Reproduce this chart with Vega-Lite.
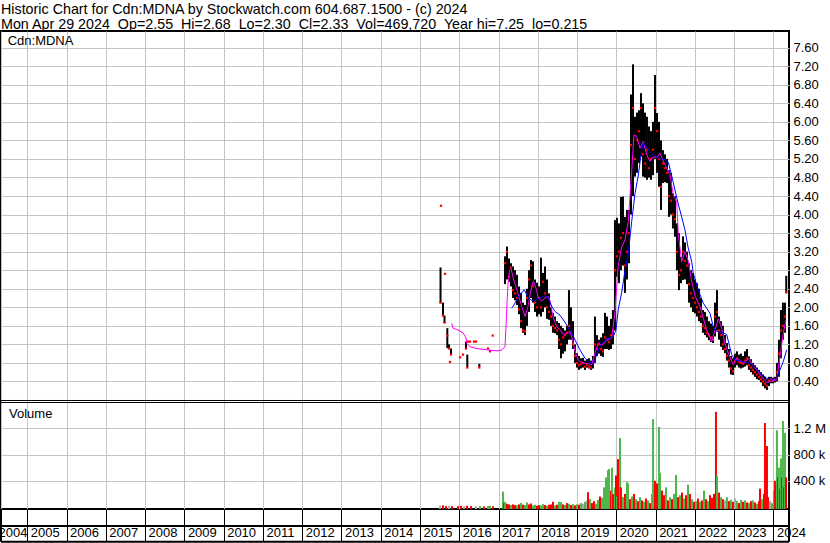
{
"$schema": "https://vega.github.io/schema/vega-lite/v6.json",
"width": 788,
"height": 478,
"autosize": {"type": "none"},
"padding": {"left": 1, "top": 31, "right": 41, "bottom": 34},
"background": "#ffffff",
"title": {"text": ["Historic Chart for Cdn:MDNA by Stockwatch.com 604.687.1500 - (c) 2024", "Mon Apr 29 2024\u00a0 Op=2.55\u00a0 Hi=2.68\u00a0 Lo=2.30\u00a0 Cl=2.33\u00a0 Vol=469,720\u00a0 Year hi=7.25\u00a0 lo=0.215"], "anchor": "start", "frame": "group", "orient": "top", "font": "Liberation Sans", "fontSize": 14.3, "fontWeight": "normal", "color": "#000000", "lineHeight": 14.3, "offset": -1},
"config": {"view": {"stroke": "#000000", "strokeWidth": 2}, "axis": {"labelFont": "Liberation Sans", "labelFontSize": 13, "labelColor": "#000000", "gridColor": "#c4c4c4", "gridWidth": 1, "gridOpacity": 1, "labelOverlap": false}},
"datasets": {
"bars": [
{"t":2015.522,"hi":2.86,"lo":2.09,"cl":2.10},{"t":2015.534,"hi":4.19,"lo":4.19,"cl":4.19},{"t":2015.585,"hi":2.10,"lo":1.82,"cl":1.82},{"t":2015.624,"hi":1.82,"lo":1.66,"cl":1.67},{"t":2015.636,"hi":2.72,"lo":2.72,"cl":2.72},{"t":2015.695,"hi":1.55,"lo":1.12,"cl":1.39},{"t":2015.738,"hi":1.20,"lo":1.11,"cl":1.11},{"t":2015.764,"hi":0.82,"lo":0.82,"cl":0.82},{"t":2015.789,"hi":1.11,"lo":0.97,"cl":0.98},{"t":2016.018,"hi":0.92,"lo":0.92,"cl":0.92},{"t":2016.094,"hi":0.98,"lo":0.98,"cl":0.98},{"t":2016.171,"hi":1.26,"lo":1.11,"cl":1.11},{"t":2016.204,"hi":0.98,"lo":0.71,"cl":0.70},{"t":2016.222,"hi":1.26,"lo":1.26,"cl":1.26},{"t":2016.273,"hi":1.26,"lo":1.26,"cl":1.26},{"t":2016.375,"hi":1.26,"lo":1.26,"cl":1.26},{"t":2016.426,"hi":1.26,"lo":1.26,"cl":1.26},{"t":2016.510,"hi":0.78,"lo":0.71,"cl":0.70},{"t":2016.731,"hi":1.11,"lo":1.11,"cl":1.11},{"t":2016.782,"hi":1.05,"lo":1.05,"cl":1.05},{"t":2016.851,"hi":1.39,"lo":1.39,"cl":1.39},
{"t":2017.164,"hi":3.10,"lo":2.50,"cl":2.95},{"t":2017.215,"hi":3.31,"lo":2.60,"cl":3.20},{"t":2017.266,"hi":3.05,"lo":2.55,"cl":2.66},{"t":2017.317,"hi":2.95,"lo":2.45,"cl":2.86},{"t":2017.368,"hi":2.88,"lo":2.20,"cl":2.37},{"t":2017.419,"hi":2.80,"lo":2.15,"cl":2.30},{"t":2017.470,"hi":2.70,"lo":2.05,"cl":2.20},{"t":2017.521,"hi":2.45,"lo":1.85,"cl":1.95},{"t":2017.572,"hi":2.31,"lo":1.55,"cl":1.70},{"t":2017.623,"hi":2.10,"lo":1.45,"cl":1.50},{"t":2017.674,"hi":2.05,"lo":1.40,"cl":1.48},{"t":2017.724,"hi":2.40,"lo":1.60,"cl":2.20},{"t":2017.775,"hi":2.80,"lo":1.90,"cl":2.60},{"t":2017.826,"hi":3.02,"lo":2.20,"cl":2.90},{"t":2017.877,"hi":2.99,"lo":2.10,"cl":2.45},{"t":2017.928,"hi":2.60,"lo":1.90,"cl":2.10},{"t":2017.979,"hi":2.53,"lo":1.80,"cl":2.00},
{"t":2018.030,"hi":2.45,"lo":1.85,"cl":2.20},{"t":2018.081,"hi":3.07,"lo":1.80,"cl":2.00},{"t":2018.132,"hi":2.74,"lo":1.90,"cl":2.55},{"t":2018.182,"hi":2.88,"lo":2.00,"cl":2.30},{"t":2018.233,"hi":2.60,"lo":1.75,"cl":2.00},{"t":2018.284,"hi":2.30,"lo":1.73,"cl":1.90},{"t":2018.335,"hi":2.00,"lo":1.60,"cl":1.80},{"t":2018.386,"hi":1.88,"lo":1.45,"cl":1.60},{"t":2018.437,"hi":1.80,"lo":1.44,"cl":1.55},{"t":2018.488,"hi":1.70,"lo":1.40,"cl":1.50},{"t":2018.539,"hi":1.66,"lo":1.10,"cl":1.30},{"t":2018.590,"hi":1.60,"lo":0.90,"cl":1.20},{"t":2018.641,"hi":1.55,"lo":1.00,"cl":1.35},{"t":2018.692,"hi":1.50,"lo":1.05,"cl":1.40},{"t":2018.743,"hi":1.60,"lo":1.20,"cl":1.45},{"t":2018.793,"hi":2.37,"lo":1.30,"cl":1.60},{"t":2018.844,"hi":2.00,"lo":1.30,"cl":1.45},{"t":2018.895,"hi":1.70,"lo":1.10,"cl":1.20},{"t":2018.946,"hi":1.20,"lo":0.80,"cl":0.95},{"t":2018.997,"hi":1.01,"lo":0.70,"cl":0.80},
{"t":2019.048,"hi":0.95,"lo":0.65,"cl":0.75},{"t":2019.099,"hi":0.90,"lo":0.68,"cl":0.78},{"t":2019.150,"hi":0.91,"lo":0.70,"cl":0.80},{"t":2019.201,"hi":0.85,"lo":0.65,"cl":0.72},{"t":2019.252,"hi":0.88,"lo":0.70,"cl":0.76},{"t":2019.303,"hi":0.90,"lo":0.68,"cl":0.72},{"t":2019.353,"hi":0.85,"lo":0.65,"cl":0.70},{"t":2019.404,"hi":0.95,"lo":0.68,"cl":0.80},{"t":2019.455,"hi":1.80,"lo":0.80,"cl":1.20},{"t":2019.506,"hi":1.40,"lo":0.95,"cl":1.10},{"t":2019.557,"hi":1.30,"lo":1.00,"cl":1.20},{"t":2019.608,"hi":1.35,"lo":0.95,"cl":1.10},{"t":2019.659,"hi":1.44,"lo":0.93,"cl":1.05},{"t":2019.710,"hi":1.88,"lo":1.10,"cl":1.35},{"t":2019.761,"hi":1.80,"lo":1.10,"cl":1.30},{"t":2019.812,"hi":1.60,"lo":1.08,"cl":1.25},{"t":2019.863,"hi":1.75,"lo":1.10,"cl":1.40},{"t":2019.913,"hi":1.94,"lo":1.20,"cl":1.50},{"t":2019.964,"hi":3.88,"lo":1.50,"cl":2.80},
{"t":2020.015,"hi":3.93,"lo":2.66,"cl":3.10},{"t":2020.066,"hi":3.81,"lo":2.52,"cl":3.20},{"t":2020.117,"hi":4.38,"lo":2.80,"cl":3.50},{"t":2020.168,"hi":4.39,"lo":2.90,"cl":3.60},{"t":2020.219,"hi":3.95,"lo":2.31,"cl":2.90},{"t":2020.270,"hi":4.10,"lo":2.60,"cl":3.20},{"t":2020.321,"hi":4.10,"lo":2.95,"cl":3.60},{"t":2020.372,"hi":6.59,"lo":4.00,"cl":5.50},{"t":2020.423,"hi":7.24,"lo":4.40,"cl":6.30},{"t":2020.474,"hi":6.11,"lo":4.82,"cl":5.20},{"t":2020.525,"hi":6.20,"lo":4.90,"cl":5.60},{"t":2020.576,"hi":6.25,"lo":5.11,"cl":5.80},{"t":2020.627,"hi":6.62,"lo":5.25,"cl":6.30},{"t":2020.678,"hi":6.40,"lo":4.82,"cl":5.30},{"t":2020.728,"hi":6.20,"lo":4.80,"cl":5.10},{"t":2020.779,"hi":6.11,"lo":4.75,"cl":5.40},{"t":2020.830,"hi":5.90,"lo":4.80,"cl":5.00},{"t":2020.881,"hi":5.80,"lo":4.75,"cl":5.20},{"t":2020.932,"hi":6.00,"lo":4.85,"cl":5.40},{"t":2020.983,"hi":7.01,"lo":5.20,"cl":6.30},
{"t":2021.034,"hi":6.19,"lo":4.90,"cl":5.80},{"t":2021.085,"hi":6.00,"lo":4.60,"cl":5.20},{"t":2021.136,"hi":5.60,"lo":4.10,"cl":4.60},{"t":2021.187,"hi":5.39,"lo":4.68,"cl":5.10},{"t":2021.238,"hi":5.30,"lo":4.70,"cl":5.00},{"t":2021.289,"hi":5.20,"lo":4.68,"cl":4.90},{"t":2021.340,"hi":4.96,"lo":3.95,"cl":4.40},{"t":2021.390,"hi":4.90,"lo":4.00,"cl":4.30},{"t":2021.441,"hi":4.46,"lo":3.70,"cl":4.00},{"t":2021.492,"hi":4.40,"lo":3.52,"cl":3.90},{"t":2021.543,"hi":3.81,"lo":2.80,"cl":3.20},{"t":2021.594,"hi":3.60,"lo":2.37,"cl":2.70},{"t":2021.645,"hi":3.09,"lo":2.52,"cl":2.80},{"t":2021.696,"hi":3.53,"lo":2.59,"cl":3.20},{"t":2021.747,"hi":3.40,"lo":2.60,"cl":3.00},{"t":2021.798,"hi":3.20,"lo":2.50,"cl":2.90},{"t":2021.849,"hi":2.95,"lo":2.10,"cl":2.50},{"t":2021.900,"hi":2.80,"lo":2.00,"cl":2.30},{"t":2021.951,"hi":2.74,"lo":1.90,"cl":2.20},
{"t":2022.002,"hi":2.60,"lo":1.87,"cl":2.10},{"t":2022.052,"hi":2.52,"lo":1.80,"cl":2.00},{"t":2022.103,"hi":2.40,"lo":1.70,"cl":1.90},{"t":2022.154,"hi":2.20,"lo":1.66,"cl":1.80},{"t":2022.205,"hi":1.94,"lo":1.45,"cl":1.60},{"t":2022.256,"hi":1.90,"lo":1.40,"cl":1.55},{"t":2022.307,"hi":1.80,"lo":1.35,"cl":1.45},{"t":2022.358,"hi":1.70,"lo":1.29,"cl":1.40},{"t":2022.409,"hi":1.65,"lo":1.25,"cl":1.35},{"t":2022.460,"hi":1.60,"lo":1.23,"cl":1.30},{"t":2022.511,"hi":2.10,"lo":1.37,"cl":1.80},{"t":2022.562,"hi":2.37,"lo":1.50,"cl":1.90},{"t":2022.613,"hi":1.80,"lo":1.30,"cl":1.50},{"t":2022.664,"hi":1.70,"lo":1.15,"cl":1.40},{"t":2022.714,"hi":1.60,"lo":1.08,"cl":1.20},{"t":2022.765,"hi":1.40,"lo":1.01,"cl":1.10},{"t":2022.816,"hi":1.23,"lo":0.85,"cl":0.95},{"t":2022.867,"hi":1.10,"lo":0.70,"cl":0.85},{"t":2022.918,"hi":0.95,"lo":0.55,"cl":0.68},{"t":2022.969,"hi":0.90,"lo":0.54,"cl":0.62},
{"t":2023.020,"hi":1.00,"lo":0.70,"cl":0.85},{"t":2023.071,"hi":1.05,"lo":0.75,"cl":0.90},{"t":2023.122,"hi":0.98,"lo":0.70,"cl":0.82},{"t":2023.173,"hi":1.00,"lo":0.68,"cl":0.80},{"t":2023.224,"hi":0.95,"lo":0.70,"cl":0.78},{"t":2023.275,"hi":1.05,"lo":0.72,"cl":0.85},{"t":2023.326,"hi":1.10,"lo":0.75,"cl":0.90},{"t":2023.376,"hi":0.94,"lo":0.65,"cl":0.75},{"t":2023.427,"hi":0.88,"lo":0.60,"cl":0.70},{"t":2023.478,"hi":0.80,"lo":0.55,"cl":0.65},{"t":2023.529,"hi":0.75,"lo":0.50,"cl":0.60},{"t":2023.580,"hi":0.70,"lo":0.45,"cl":0.55},{"t":2023.631,"hi":0.65,"lo":0.43,"cl":0.50},{"t":2023.682,"hi":0.60,"lo":0.38,"cl":0.45},{"t":2023.733,"hi":0.55,"lo":0.30,"cl":0.40},{"t":2023.784,"hi":0.50,"lo":0.25,"cl":0.35},{"t":2023.835,"hi":0.45,"lo":0.215,"cl":0.30},{"t":2023.886,"hi":0.50,"lo":0.30,"cl":0.42},{"t":2023.937,"hi":0.50,"lo":0.36,"cl":0.45},{"t":2023.988,"hi":0.48,"lo":0.36,"cl":0.42},
{"t":2024.038,"hi":0.50,"lo":0.38,"cl":0.45},{"t":2024.089,"hi":0.80,"lo":0.40,"cl":0.60},{"t":2024.140,"hi":1.30,"lo":0.50,"cl":1.00},{"t":2024.191,"hi":1.94,"lo":0.90,"cl":1.50},{"t":2024.242,"hi":2.10,"lo":1.30,"cl":1.60},{"t":2024.293,"hi":2.10,"lo":1.45,"cl":1.80},{"t":2024.326,"hi":2.68,"lo":2.30,"cl":2.33}
],
"ma": [
{"t":2015.807,"v":1.65,"series":"fast"},{"t":2015.840,"v":1.55,"series":"fast"},{"t":2015.967,"v":1.51,"series":"fast"},{"t":2016.094,"v":1.45,"series":"fast"},{"t":2016.171,"v":1.34,"series":"fast"},{"t":2016.197,"v":1.21,"series":"fast"},{"t":2016.273,"v":1.15,"series":"fast"},{"t":2016.451,"v":1.11,"series":"fast"},{"t":2016.731,"v":1.08,"series":"fast"},{"t":2016.960,"v":1.06,"series":"fast"},{"t":2017.088,"v":1.08,"series":"fast"},{"t":2017.164,"v":1.15,"series":"fast"},{"t":2017.190,"v":1.58,"series":"fast"},{"t":2017.215,"v":2.10,"series":"fast"},{"t":2017.241,"v":2.50,"series":"fast"},{"t":2017.279,"v":2.80,"series":"fast"},{"t":2017.317,"v":2.84,"series":"fast"},{"t":2017.368,"v":2.65,"series":"fast"},{"t":2017.419,"v":2.51,"series":"fast"},{"t":2017.495,"v":2.30,"series":"fast"},{"t":2017.589,"v":2.02,"series":"fast"},{"t":2017.674,"v":1.80,"series":"fast"},{"t":2017.750,"v":2.02,"series":"fast"},{"t":2017.844,"v":2.45,"series":"fast"},{"t":2017.885,"v":2.56,"series":"fast"},{"t":2017.954,"v":2.41,"series":"fast"},{"t":2018.013,"v":2.20,"series":"fast"},{"t":2018.099,"v":2.13,"series":"fast"},{"t":2018.182,"v":2.20,"series":"fast"},{"t":2018.267,"v":2.23,"series":"fast"},{"t":2018.310,"v":2.15,"series":"fast"},{"t":2018.394,"v":1.77,"series":"fast"},{"t":2018.480,"v":1.58,"series":"fast"},{"t":2018.565,"v":1.52,"series":"fast"},{"t":2018.649,"v":1.41,"series":"fast"},{"t":2018.736,"v":1.44,"series":"fast"},{"t":2018.819,"v":1.48,"series":"fast"},{"t":2018.888,"v":1.29,"series":"fast"},{"t":2018.946,"v":1.05,"series":"fast"},{"t":2019.031,"v":0.86,"series":"fast"},{"t":2019.158,"v":0.80,"series":"fast"},{"t":2019.285,"v":0.78,"series":"fast"},{"t":2019.371,"v":0.76,"series":"fast"},{"t":2019.455,"v":1.01,"series":"fast"},{"t":2019.540,"v":1.23,"series":"fast"},{"t":2019.634,"v":1.18,"series":"fast"},{"t":2019.753,"v":1.29,"series":"fast"},{"t":2019.881,"v":1.34,"series":"fast"},{"t":2019.964,"v":1.90,"series":"fast"},{"t":2020.048,"v":2.90,"series":"fast"},{"t":2020.135,"v":3.30,"series":"fast"},{"t":2020.219,"v":3.45,"series":"fast"},{"t":2020.303,"v":3.85,"series":"fast"},{"t":2020.390,"v":4.93,"series":"fast"},{"t":2020.448,"v":5.72,"series":"fast"},{"t":2020.517,"v":5.69,"series":"fast"},{"t":2020.601,"v":5.43,"series":"fast"},{"t":2020.685,"v":5.58,"series":"fast"},{"t":2020.771,"v":5.29,"series":"fast"},{"t":2020.856,"v":5.15,"series":"fast"},{"t":2020.940,"v":5.25,"series":"fast"},{"t":2021.027,"v":5.22,"series":"fast"},{"t":2021.111,"v":5.33,"series":"fast"},{"t":2021.195,"v":5.15,"series":"fast"},{"t":2021.281,"v":5.00,"series":"fast"},{"t":2021.365,"v":4.86,"series":"fast"},{"t":2021.449,"v":4.43,"series":"fast"},{"t":2021.536,"v":4.28,"series":"fast"},{"t":2021.577,"v":3.57,"series":"fast"},{"t":2021.663,"v":2.99,"series":"fast"},{"t":2021.747,"v":3.20,"series":"fast"},{"t":2021.831,"v":3.00,"series":"fast"},{"t":2021.917,"v":2.56,"series":"fast"},{"t":2022.002,"v":2.25,"series":"fast"},{"t":2022.086,"v":2.09,"series":"fast"},{"t":2022.129,"v":2.02,"series":"fast"},{"t":2022.300,"v":1.51,"series":"fast"},{"t":2022.427,"v":1.26,"series":"fast"},{"t":2022.511,"v":1.51,"series":"fast"},{"t":2022.595,"v":1.75,"series":"fast"},{"t":2022.682,"v":1.55,"series":"fast"},{"t":2022.765,"v":1.22,"series":"fast"},{"t":2022.849,"v":1.01,"series":"fast"},{"t":2022.977,"v":0.76,"series":"fast"},{"t":2023.063,"v":0.90,"series":"fast"},{"t":2023.147,"v":0.85,"series":"fast"},{"t":2023.275,"v":0.80,"series":"fast"},{"t":2023.359,"v":0.90,"series":"fast"},{"t":2023.453,"v":0.78,"series":"fast"},{"t":2023.572,"v":0.65,"series":"fast"},{"t":2023.700,"v":0.50,"series":"fast"},{"t":2023.827,"v":0.38,"series":"fast"},{"t":2023.954,"v":0.40,"series":"fast"},{"t":2024.082,"v":0.44,"series":"fast"},{"t":2024.166,"v":0.94,"series":"fast"},{"t":2024.251,"v":1.44,"series":"fast"},{"t":2024.320,"v":1.73,"series":"fast"},
{"t":2017.335,"v":1.98,"series":"slow"},{"t":2017.393,"v":2.05,"series":"slow"},{"t":2017.462,"v":2.16,"series":"slow"},{"t":2017.546,"v":2.27,"series":"slow"},{"t":2017.656,"v":2.38,"series":"slow"},{"t":2017.699,"v":2.30,"series":"slow"},{"t":2017.758,"v":2.20,"series":"slow"},{"t":2017.885,"v":2.13,"series":"slow"},{"t":2018.055,"v":2.20,"series":"slow"},{"t":2018.182,"v":2.25,"series":"slow"},{"t":2018.259,"v":2.20,"series":"slow"},{"t":2018.353,"v":2.02,"series":"slow"},{"t":2018.437,"v":1.91,"series":"slow"},{"t":2018.565,"v":1.83,"series":"slow"},{"t":2018.736,"v":1.62,"series":"slow"},{"t":2018.904,"v":1.37,"series":"slow"},{"t":2019.074,"v":1.08,"series":"slow"},{"t":2019.201,"v":0.90,"series":"slow"},{"t":2019.371,"v":0.78,"series":"slow"},{"t":2019.430,"v":0.80,"series":"slow"},{"t":2019.498,"v":0.98,"series":"slow"},{"t":2019.583,"v":1.15,"series":"slow"},{"t":2019.710,"v":1.29,"series":"slow"},{"t":2019.921,"v":1.37,"series":"slow"},{"t":2019.990,"v":1.51,"series":"slow"},{"t":2020.048,"v":1.95,"series":"slow"},{"t":2020.135,"v":2.32,"series":"slow"},{"t":2020.219,"v":2.78,"series":"slow"},{"t":2020.303,"v":3.15,"series":"slow"},{"t":2020.390,"v":3.85,"series":"slow"},{"t":2020.474,"v":4.45,"series":"slow"},{"t":2020.559,"v":4.85,"series":"slow"},{"t":2020.645,"v":5.40,"series":"slow"},{"t":2020.685,"v":5.55,"series":"slow"},{"t":2020.813,"v":5.39,"series":"slow"},{"t":2020.940,"v":5.29,"series":"slow"},{"t":2021.068,"v":5.22,"series":"slow"},{"t":2021.238,"v":5.18,"series":"slow"},{"t":2021.322,"v":5.13,"series":"slow"},{"t":2021.409,"v":4.84,"series":"slow"},{"t":2021.492,"v":4.53,"series":"slow"},{"t":2021.569,"v":4.25,"series":"slow"},{"t":2021.663,"v":3.95,"series":"slow"},{"t":2021.747,"v":3.67,"series":"slow"},{"t":2021.824,"v":3.30,"series":"slow"},{"t":2021.917,"v":2.99,"series":"slow"},{"t":2021.958,"v":2.74,"series":"slow"},{"t":2022.086,"v":2.37,"series":"slow"},{"t":2022.213,"v":2.09,"series":"slow"},{"t":2022.384,"v":1.87,"series":"slow"},{"t":2022.468,"v":1.58,"series":"slow"},{"t":2022.555,"v":1.48,"series":"slow"},{"t":2022.689,"v":1.46,"series":"slow"},{"t":2022.809,"v":1.41,"series":"slow"},{"t":2022.875,"v":1.19,"series":"slow"},{"t":2022.936,"v":0.98,"series":"slow"},{"t":2023.020,"v":0.86,"series":"slow"},{"t":2023.190,"v":0.83,"series":"slow"},{"t":2023.359,"v":0.81,"series":"slow"},{"t":2023.529,"v":0.72,"series":"slow"},{"t":2023.657,"v":0.58,"series":"slow"},{"t":2023.827,"v":0.47,"series":"slow"},{"t":2023.995,"v":0.44,"series":"slow"},{"t":2024.082,"v":0.47,"series":"slow"},{"t":2024.166,"v":0.65,"series":"slow"},{"t":2024.251,"v":0.83,"series":"slow"},{"t":2024.336,"v":1.08,"series":"slow"}
],
"vol": [
{"t":2015.509,"v":20000,"dir":"flat"},{"t":2015.585,"v":25000,"dir":"down"},{"t":2015.662,"v":15000,"dir":"down"},{"t":2015.738,"v":20000,"dir":"flat"},{"t":2015.815,"v":15000,"dir":"down"},{"t":2015.967,"v":12000,"dir":"down"},{"t":2016.044,"v":18000,"dir":"down"},{"t":2016.120,"v":12000,"dir":"flat"},{"t":2016.197,"v":20000,"dir":"down"},{"t":2016.299,"v":15000,"dir":"down"},{"t":2016.426,"v":12000,"dir":"flat"},{"t":2016.528,"v":15000,"dir":"up"},{"t":2016.630,"v":10000,"dir":"down"},{"t":2016.731,"v":15000,"dir":"up"},{"t":2016.782,"v":20000,"dir":"up"},{"t":2016.859,"v":12000,"dir":"down"},
{"t":2017.113,"v":235000,"dir":"up"},{"t":2017.139,"v":60000,"dir":"down"},{"t":2017.164,"v":80000,"dir":"up"},{"t":2017.215,"v":50000,"dir":"down"},{"t":2017.266,"v":40000,"dir":"down"},{"t":2017.317,"v":30000,"dir":"up"},{"t":2017.368,"v":40000,"dir":"down"},{"t":2017.419,"v":30000,"dir":"down"},{"t":2017.470,"v":25000,"dir":"up"},{"t":2017.521,"v":40000,"dir":"down"},{"t":2017.572,"v":62000,"dir":"up"},{"t":2017.623,"v":35000,"dir":"down"},{"t":2017.674,"v":30000,"dir":"up"},{"t":2017.724,"v":70000,"dir":"up"},{"t":2017.775,"v":40000,"dir":"down"},{"t":2017.826,"v":55000,"dir":"down"},{"t":2017.877,"v":25000,"dir":"up"},{"t":2017.928,"v":35000,"dir":"up"},{"t":2017.979,"v":20000,"dir":"down"},
{"t":2018.030,"v":30000,"dir":"down"},{"t":2018.081,"v":25000,"dir":"up"},{"t":2018.132,"v":45000,"dir":"up"},{"t":2018.182,"v":30000,"dir":"down"},{"t":2018.233,"v":20000,"dir":"up"},{"t":2018.284,"v":35000,"dir":"down"},{"t":2018.335,"v":40000,"dir":"down"},{"t":2018.386,"v":80000,"dir":"down"},{"t":2018.437,"v":25000,"dir":"up"},{"t":2018.488,"v":35000,"dir":"down"},{"t":2018.539,"v":80000,"dir":"up"},{"t":2018.590,"v":75000,"dir":"up"},{"t":2018.641,"v":40000,"dir":"down"},{"t":2018.692,"v":30000,"dir":"up"},{"t":2018.743,"v":60000,"dir":"down"},{"t":2018.793,"v":50000,"dir":"up"},{"t":2018.844,"v":30000,"dir":"down"},{"t":2018.895,"v":45000,"dir":"up"},{"t":2018.946,"v":25000,"dir":"down"},{"t":2018.997,"v":40000,"dir":"up"},
{"t":2019.048,"v":35000,"dir":"down"},{"t":2019.099,"v":60000,"dir":"up"},{"t":2019.150,"v":50000,"dir":"flat"},{"t":2019.201,"v":80000,"dir":"up"},{"t":2019.252,"v":100000,"dir":"flat"},{"t":2019.277,"v":225000,"dir":"down"},{"t":2019.328,"v":120000,"dir":"up"},{"t":2019.379,"v":60000,"dir":"down"},{"t":2019.430,"v":90000,"dir":"down"},{"t":2019.481,"v":50000,"dir":"up"},{"t":2019.532,"v":110000,"dir":"up"},{"t":2019.583,"v":160000,"dir":"down"},{"t":2019.634,"v":140000,"dir":"up"},{"t":2019.685,"v":300000,"dir":"up"},{"t":2019.736,"v":450000,"dir":"up"},{"t":2019.787,"v":560000,"dir":"up"},{"t":2019.812,"v":580000,"dir":"up"},{"t":2019.863,"v":250000,"dir":"down"},{"t":2019.888,"v":600000,"dir":"up"},{"t":2019.913,"v":200000,"dir":"down"},{"t":2019.964,"v":300000,"dir":"up"},{"t":2019.990,"v":480000,"dir":"down"},
{"t":2020.015,"v":160000,"dir":"up"},{"t":2020.041,"v":730000,"dir":"down"},{"t":2020.092,"v":1050000,"dir":"up"},{"t":2020.117,"v":300000,"dir":"down"},{"t":2020.168,"v":150000,"dir":"up"},{"t":2020.219,"v":200000,"dir":"down"},{"t":2020.270,"v":380000,"dir":"up"},{"t":2020.296,"v":360000,"dir":"up"},{"t":2020.347,"v":120000,"dir":"down"},{"t":2020.397,"v":160000,"dir":"up"},{"t":2020.448,"v":200000,"dir":"down"},{"t":2020.499,"v":120000,"dir":"up"},{"t":2020.550,"v":90000,"dir":"down"},{"t":2020.601,"v":150000,"dir":"up"},{"t":2020.652,"v":100000,"dir":"down"},{"t":2020.703,"v":80000,"dir":"up"},{"t":2020.754,"v":130000,"dir":"down"},{"t":2020.805,"v":100000,"dir":"up"},{"t":2020.856,"v":60000,"dir":"down"},{"t":2020.907,"v":200000,"dir":"up"},{"t":2020.932,"v":1340000,"dir":"up"},{"t":2020.983,"v":400000,"dir":"down"},
{"t":2021.034,"v":360000,"dir":"down"},{"t":2021.085,"v":1220000,"dir":"up"},{"t":2021.111,"v":520000,"dir":"up"},{"t":2021.162,"v":250000,"dir":"down"},{"t":2021.213,"v":180000,"dir":"down"},{"t":2021.264,"v":300000,"dir":"up"},{"t":2021.314,"v":100000,"dir":"down"},{"t":2021.365,"v":150000,"dir":"up"},{"t":2021.416,"v":120000,"dir":"down"},{"t":2021.467,"v":200000,"dir":"up"},{"t":2021.518,"v":490000,"dir":"up"},{"t":2021.569,"v":150000,"dir":"down"},{"t":2021.620,"v":180000,"dir":"up"},{"t":2021.671,"v":220000,"dir":"down"},{"t":2021.722,"v":130000,"dir":"up"},{"t":2021.773,"v":180000,"dir":"down"},{"t":2021.824,"v":340000,"dir":"up"},{"t":2021.874,"v":200000,"dir":"down"},{"t":2021.925,"v":120000,"dir":"up"},{"t":2021.976,"v":80000,"dir":"down"},
{"t":2022.027,"v":90000,"dir":"up"},{"t":2022.078,"v":130000,"dir":"down"},{"t":2022.129,"v":80000,"dir":"up"},{"t":2022.180,"v":100000,"dir":"down"},{"t":2022.231,"v":250000,"dir":"up"},{"t":2022.282,"v":120000,"dir":"down"},{"t":2022.333,"v":90000,"dir":"up"},{"t":2022.384,"v":180000,"dir":"down"},{"t":2022.435,"v":140000,"dir":"down"},{"t":2022.486,"v":200000,"dir":"down"},{"t":2022.536,"v":1450000,"dir":"down"},{"t":2022.562,"v":480000,"dir":"up"},{"t":2022.613,"v":220000,"dir":"down"},{"t":2022.664,"v":150000,"dir":"up"},{"t":2022.714,"v":120000,"dir":"down"},{"t":2022.765,"v":100000,"dir":"flat"},{"t":2022.816,"v":150000,"dir":"up"},{"t":2022.867,"v":90000,"dir":"down"},{"t":2022.918,"v":110000,"dir":"up"},{"t":2022.969,"v":80000,"dir":"down"},
{"t":2023.020,"v":130000,"dir":"flat"},{"t":2023.071,"v":90000,"dir":"up"},{"t":2023.122,"v":60000,"dir":"down"},{"t":2023.173,"v":110000,"dir":"up"},{"t":2023.224,"v":80000,"dir":"down"},{"t":2023.275,"v":100000,"dir":"up"},{"t":2023.326,"v":70000,"dir":"down"},{"t":2023.376,"v":60000,"dir":"up"},{"t":2023.427,"v":90000,"dir":"down"},{"t":2023.478,"v":100000,"dir":"up"},{"t":2023.529,"v":70000,"dir":"down"},{"t":2023.580,"v":50000,"dir":"up"},{"t":2023.631,"v":90000,"dir":"down"},{"t":2023.657,"v":280000,"dir":"down"},{"t":2023.708,"v":120000,"dir":"up"},{"t":2023.759,"v":200000,"dir":"down"},{"t":2023.784,"v":1280000,"dir":"down"},{"t":2023.835,"v":930000,"dir":"down"},{"t":2023.860,"v":150000,"dir":"down"},{"t":2023.911,"v":90000,"dir":"flat"},{"t":2023.962,"v":60000,"dir":"up"},
{"t":2024.013,"v":250000,"dir":"up"},{"t":2024.038,"v":400000,"dir":"down"},{"t":2024.064,"v":330000,"dir":"down"},{"t":2024.089,"v":1170000,"dir":"up"},{"t":2024.115,"v":455000,"dir":"down"},{"t":2024.140,"v":600000,"dir":"up"},{"t":2024.166,"v":280000,"dir":"down"},{"t":2024.191,"v":740000,"dir":"up"},{"t":2024.217,"v":450000,"dir":"down"},{"t":2024.242,"v":1310000,"dir":"up"},{"t":2024.268,"v":300000,"dir":"down"},{"t":2024.293,"v":1130000,"dir":"up"},{"t":2024.319,"v":450000,"dir":"down"}
]
},
"resolve": {"scale": {"y": "independent", "color": "independent"}},
"layer": [
{
"layer": [
{"data": {"name": "bars"}, "mark": {"type": "rule", "color": "#000000", "strokeWidth": 2},
 "encoding": {
  "x": {"field": "t", "type": "quantitative", "scale": {"domain": [2004.33, 2024.396], "nice": false, "zero": false, "padding": 0},
   "axis": {"orient": "bottom", "values": [2004.33,2005,2006,2007,2008,2009,2010,2011,2012,2013,2014,2015,2016,2017,2018,2019,2020,2021,2022,2023,2024], "tickCount": 60, "labelExpr": "'' + floor(datum.value)", "grid": true, "domain": false, "ticks": true, "tickColor": "#000000", "tickSize": 32, "tickWidth": 1, "labelAlign": "left", "labelBaseline": "top", "labelPadding": -15, "labelOffset": {"condition": {"test": "datum.value < 2005", "value": -3}, "value": 3}, "labelOverlap": false, "labelFlush": false, "labelBound": false, "title": null}},
  "y": {"field": "hi", "type": "quantitative", "scale": {"domain": [-2.3515, 7.96], "nice": false, "zero": false},
   "axis": {"orient": "right", "values": [0.4,0.8,1.2,1.6,2.0,2.4,2.8,3.2,3.6,4.0,4.4,4.8,5.2,5.6,6.0,6.4,6.8,7.2,7.6], "tickCount": 60, "format": ".2f", "grid": true, "domain": false, "ticks": false, "labelPadding": 4, "labelOverlap": false, "labelFlush": false, "labelBaseline": "middle", "title": null}},
  "y2": {"field": "lo"}
 }},
{"data": {"name": "bars"}, "mark": {"type": "square", "color": "#ff0000", "size": 5, "opacity": 1},
 "encoding": {"x": {"field": "t", "type": "quantitative"}, "y": {"field": "cl", "type": "quantitative"}}},
{"data": {"name": "ma"}, "mark": {"type": "line", "strokeWidth": 1},
 "encoding": {"x": {"field": "t", "type": "quantitative"}, "y": {"field": "v", "type": "quantitative"},
  "color": {"field": "series", "type": "nominal", "scale": {"domain": ["fast", "slow"], "range": ["#ff00ff", "#0000ff"]}, "legend": null}}},
{"data": {"values": [{}]}, "mark": {"type": "rule", "color": "#000000", "strokeWidth": 1},
 "encoding": {"y": {"datum": -0.0108, "type": "quantitative"}}},
{"data": {"values": [{}]}, "mark": {"type": "text", "text": "Cdn:MDNA", "align": "left", "baseline": "top", "font": "Liberation Sans", "fontSize": 13, "color": "#000000"},
 "encoding": {"x": {"datum": 2004.5, "type": "quantitative"}, "y": {"datum": 7.874, "type": "quantitative"}}}
]
},
{
"layer": [
{"data": {"name": "vol"}, "mark": {"type": "bar", "width": 2},
 "encoding": {
  "x": {"field": "t", "type": "quantitative", "scale": {"domain": [2004.33, 2024.396], "nice": false, "zero": false, "padding": 0}},
  "y": {"field": "v", "type": "quantitative", "stack": null, "scale": {"domain": [-30000, 7251682], "nice": false, "zero": false},
   "axis": {"orient": "right", "values": [400000, 800000, 1200000], "tickCount": 60, "labelExpr": "datum.value >= 1000000 ? format(datum.value / 1000000, '.1f') + ' M' : format(datum.value / 1000, 'd') + ' k'", "grid": true, "domain": false, "ticks": false, "labelPadding": 4, "labelOverlap": false, "labelFlush": false, "labelBaseline": "middle", "title": null}},
  "y2": {"datum": -30000},
  "color": {"field": "dir", "type": "nominal", "scale": {"domain": ["up", "down", "flat"], "range": ["#4cb84c", "#ff0000", "#a8a8a8"]}, "legend": null}
 }},
{"data": {"values": [{}]}, "mark": {"type": "rule", "color": "#000000", "strokeWidth": 1},
 "encoding": {"y": {"datum": 1592383, "type": "quantitative"}}},
{"data": {"values": [{}]}, "mark": {"type": "rule", "color": "#000000", "strokeWidth": 2},
 "encoding": {"y": {"datum": -288970, "type": "quantitative"}}},
{"data": {"values": [{}]}, "mark": {"type": "rule", "color": "#000000", "strokeWidth": 2},
 "encoding": {"y": {"datum": -528150, "type": "quantitative"}}},
{"data": {"values": [{}]}, "mark": {"type": "rule", "color": "#000000", "strokeWidth": 2},
 "encoding": {"x": {"datum": 2004.33, "type": "quantitative"}, "y": {"datum": -30000, "type": "quantitative"}, "y2": {"datum": -528150}}},
{"data": {"values": [{}]}, "mark": {"type": "rule", "color": "#000000", "strokeWidth": 2},
 "encoding": {"x": {"datum": 2024.396, "type": "quantitative"}, "y": {"datum": -30000, "type": "quantitative"}, "y2": {"datum": -528150}}},
{"data": {"values": [{}]}, "mark": {"type": "text", "text": "Volume", "align": "left", "baseline": "top", "font": "Liberation Sans", "fontSize": 13, "color": "#000000"},
 "encoding": {"x": {"datum": 2004.534, "type": "quantitative"}, "y": {"datum": 1508600, "type": "quantitative"}}}
]
}
]
}
